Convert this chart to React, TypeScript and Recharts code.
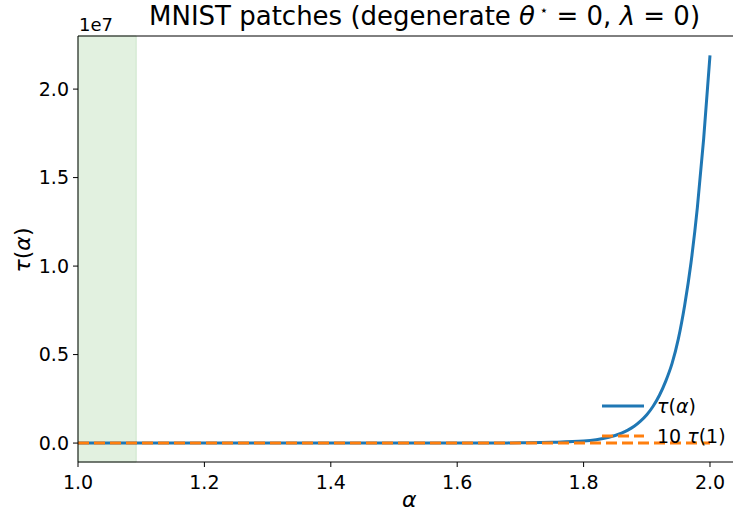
import React from "react";
import {
  LineChart,
  Line,
  XAxis,
  YAxis,
  ReferenceArea,
  ReferenceLine,
} from "recharts";

// alpha grid and tau(alpha) values
const ALPHA = [
  1.0, 1.1, 1.2, 1.3, 1.4, 1.5, 1.6, 1.65, 1.7, 1.75, 1.8, 1.82, 1.84, 1.85,
  1.86, 1.87, 1.88, 1.89, 1.9, 1.91, 1.92, 1.93, 1.94, 1.95, 1.96, 1.97, 1.98,
  1.99, 2.0,
];
const TAU = [
  0.2, 1, 5, 20, 80, 300, 2000, 5500, 15000, 40000, 110000, 190000, 330000,
  430000, 560000, 730000, 950000, 1240000, 1600000, 2080000, 2700000, 3500000,
  4500000, 5900000, 7800000, 10200000, 13300000, 17200000, 21900000,
];
const X_TICKS = [1.0, 1.2, 1.4, 1.6, 1.8, 2.0];
const Y_TICKS = [0, 5e6, 1e7, 1.5e7, 2e7];
const SPAN = [1.0, 1.092];

const X_MAX = 2.0364;
const Y_MIN = -1.07e6;
const Y_MAX = 2.3e7;

const data = ALPHA.map((a, i) => ({ alpha: a, tau: TAU[i], ref: 10 * TAU[0] }));

const FONT = "'DejaVu Sans', sans-serif";

function LegendBox() {
  return (
    <div
      style={{
        position: "absolute",
        left: 602,
        top: 391,
        fontFamily: FONT,
        fontSize: 19,
        color: "#000",
        lineHeight: "30px",
      }}
    >
      <div style={{ display: "flex", alignItems: "center" }}>
        <svg width={42} height={10} style={{ marginRight: 13 }}>
          <line x1={0} y1={5} x2={42} y2={5} stroke="#1f77b4" strokeWidth={3} />
        </svg>
        <span><i>τ</i>(<i>α</i>)</span>
      </div>
      <div style={{ display: "flex", alignItems: "center" }}>
        <svg width={42} height={10} style={{ marginRight: 13 }}>
          <line x1={0} y1={5} x2={42} y2={5} stroke="#ff7f0e" strokeWidth={3} strokeDasharray="11 5" />
        </svg>
        <span>10 <i>τ</i>(1)</span>
      </div>
    </div>
  );
}

export default function App() {
  return (
    <div style={{ position: "absolute", left: 0, top: 0, width: 733, height: 514, background: "#fff", fontFamily: FONT }}>
      <LineChart
        width={733}
        height={514}
        data={data}
        margin={{ top: 36, right: 0, left: 0, bottom: 0 }}
        style={{ fontFamily: FONT }}
      >
        <XAxis
          dataKey="alpha"
          type="number"
          domain={[1.0, X_MAX]}
          allowDataOverflow
          ticks={X_TICKS}
          tickFormatter={(v: number) => v.toFixed(1)}
          height={52}
          tickSize={5}
          tickMargin={9}
          stroke="#000"
          tick={{ fill: "#000", fontSize: 19 }}
        />
        <YAxis
          type="number"
          domain={[Y_MIN, Y_MAX]}
          allowDataOverflow
          ticks={Y_TICKS}
          tickFormatter={(v: number) => (v / 1e7).toFixed(1)}
          width={78}
          tickSize={5}
          tickMargin={4}
          stroke="#000"
          tick={{ fill: "#000", fontSize: 19 }}
        />
        <ReferenceArea
          x1={SPAN[0]}
          x2={SPAN[1]}
          y1={Y_MIN}
          y2={Y_MAX}
          fill="#e2f1e0"
          fillOpacity={1}
          stroke="#cce6ca"
          strokeWidth={1}
        />
        <ReferenceLine y={Y_MAX} stroke="#000" strokeWidth={1} />
        <Line
          dataKey="tau"
          stroke="#1f77b4"
          strokeWidth={3}
          dot={false}
          type="monotone"
          isAnimationActive={false}
        />
        <Line
          dataKey="ref"
          stroke="#ff7f0e"
          strokeWidth={3}
          strokeDasharray="11 5"
          dot={false}
          isAnimationActive={false}
        />
      </LineChart>
      <LegendBox />
      <div style={{ position: "absolute", left: 149, top: 1, fontSize: 26, whiteSpace: "nowrap" }}>
        MNIST patches (degenerate <i>θ</i>
        <sup style={{ fontSize: 14 }}> ⋆</sup> = 0, <i>λ</i> = 0)
      </div>
      <div style={{ position: "absolute", left: 79, top: 14, fontSize: 18 }}>1e7</div>
      <div
        style={{
          position: "absolute",
          left: 22,
          top: 250,
          fontSize: 22,
          transform: "translate(-50%, -50%) rotate(-90deg)",
          whiteSpace: "nowrap",
        }}
      >
        <i>τ</i>(<i>α</i>)
      </div>
      <div style={{ position: "absolute", left: 402, top: 489, fontSize: 22, lineHeight: "22px" }}>
        <i>α</i>
      </div>
    </div>
  );
}
